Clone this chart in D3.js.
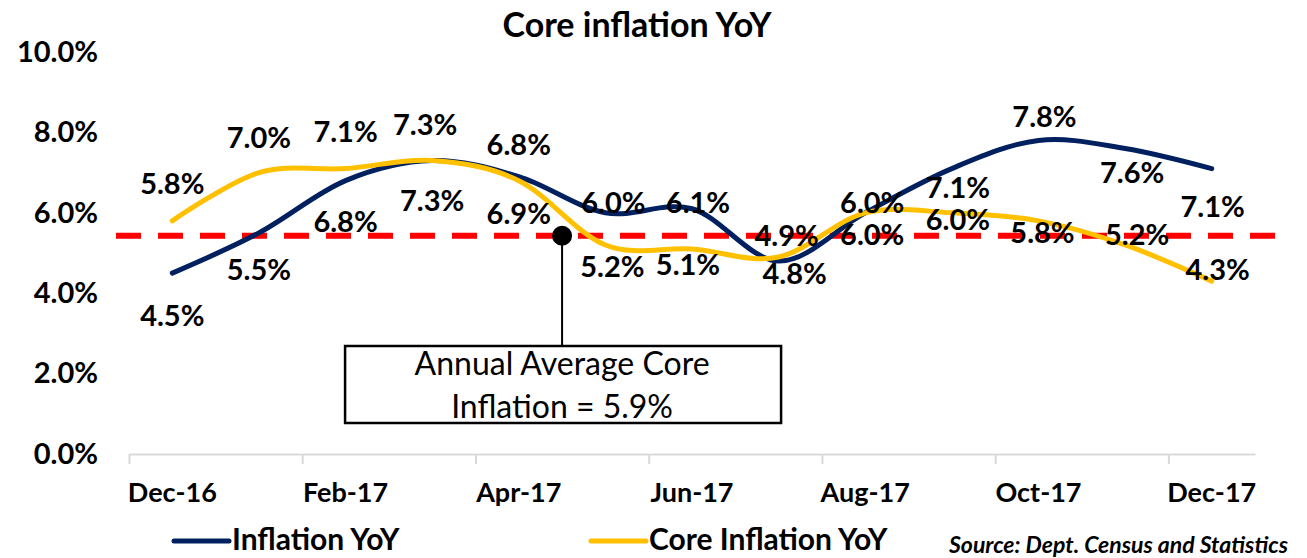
<!DOCTYPE html>
<html>
<head>
<meta charset="utf-8">
<script src="https://cdn.jsdelivr.net/npm/d3@7"></script>
<style>
  html, body { margin: 0; padding: 0; background: #fff; }
  svg text { font-family: Lato, "Open Sans", sans-serif; fill: #000; }
  .axis text { font-weight: 700; }
  .data-label { font-weight: 700; font-size: 29px; }
</style>
</head>
<body>
<svg id="chart" width="1307" height="558"></svg>
<script>
// Data
const months = ['Dec-16', 'Jan-17', 'Feb-17', 'Mar-17', 'Apr-17', 'May-17', 'Jun-17',
  'Jul-17', 'Aug-17', 'Sep-17', 'Oct-17', 'Nov-17', 'Dec-17'];
const shownMonths = ['Dec-16', 'Feb-17', 'Apr-17', 'Jun-17', 'Aug-17', 'Oct-17', 'Dec-17'];
const inflationYoY = [4.5, 5.5, 6.8, 7.3, 6.9, 6.0, 6.1, 4.8, 6.0, 7.1, 7.8, 7.6, 7.1];
const coreInflationYoY = [5.8, 7.0, 7.1, 7.3, 6.8, 5.2, 5.1, 4.9, 6.0, 6.0, 5.8, 5.2, 4.3];
const yTicks = [0, 2, 4, 6, 8, 10];
const averageLineValue = 5.43;   // where the dashed line sits on the axis
const annotationText = ['Annual Average Core', 'Inflation = 5.9%'];

// Label placement (pixel offsets from each point), kept apart from the data
const inflationLabelDx = [0, 0, 0, 0, 0, 8, 6, 16, 7, 6, 6, 7, 1];
const inflationLabelDy = [42, 37, 41, 40, 37, -10, -6, 13, -10, 19, -24, 24, 38];
const coreLabelDx = [0, 0, 0, -7, 0, 7, -4, 8, 7, 6, 4, 12, 6];
const coreLabelDy = [-37, -35, -37, -36, -36, 22, 16, -21, 22, 7, 12, -10, -12];

const NAVY = '#002060';
const GOLD = '#FFC000';

const svg = d3.select('#chart');

const x = d3.scaleBand().domain(months).range([129, 1255]).padding(0);
const xEdge = d3.scaleLinear().domain([0, months.length]).range([129, 1255]);
const y = d3.scaleLinear().domain([0, 10]).range([454, 52]);
const cx = m => x(m) + x.bandwidth() / 2;

// Title
svg.append('text')
  .attr('x', 637).attr('y', 37)
  .attr('text-anchor', 'middle')
  .style('font-size', '34px').style('font-weight', 700)
  .text('Core inflation YoY');

// Y axis (labels only)
const yAxis = svg.append('g')
  .attr('class', 'axis')
  .attr('transform', 'translate(98,0)')
  .call(d3.axisLeft(y).tickValues(yTicks).tickSize(0).tickPadding(0)
    .tickFormat(d => d3.format('.1f')(d) + '%'));
yAxis.select('.domain').remove();
yAxis.selectAll('text').style('font-size', '29px');

// X axis: line with ticks at every second band boundary
const xLine = svg.append('g')
  .attr('transform', `translate(0,${y(0)})`)
  .call(d3.axisBottom(xEdge).tickValues(d3.range(0, months.length, 2))
    .tickSize(10).tickSizeOuter(0).tickFormat(''));
xLine.select('.domain').attr('stroke', '#d9d9d9').attr('stroke-width', 2);
xLine.selectAll('.tick line').attr('stroke', '#d9d9d9').attr('stroke-width', 2);

const xLabels = svg.append('g')
  .attr('class', 'axis')
  .attr('transform', `translate(0,${y(0)})`)
  .call(d3.axisBottom(x).tickValues(shownMonths).tickSize(0).tickPadding(29));
xLabels.select('.domain').remove();
xLabels.selectAll('text').style('font-size', '27px');

// Average dashed line
svg.append('line')
  .attr('x1', 116).attr('x2', 1290)
  .attr('y1', y(averageLineValue)).attr('y2', y(averageLineValue))
  .attr('stroke', '#FF0000').attr('stroke-width', 6)
  .attr('stroke-dasharray', '25,17');

// Lines
const line = d3.line()
  .x((d, i) => cx(months[i]))
  .y(d => y(d))
  .curve(d3.curveCardinal.tension(0));

svg.append('path')
  .datum(inflationYoY)
  .attr('d', line)
  .attr('fill', 'none')
  .attr('stroke', NAVY).attr('stroke-width', 5)
  .attr('stroke-linecap', 'round');

svg.append('path')
  .datum(coreInflationYoY)
  .attr('d', line)
  .attr('fill', 'none')
  .attr('stroke', GOLD).attr('stroke-width', 5)
  .attr('stroke-linecap', 'round');

// Data labels
function addLabels(values, dxs, dys) {
  svg.append('g').selectAll('text')
    .data(values)
    .join('text')
    .attr('class', 'data-label')
    .attr('x', (d, i) => cx(months[i]) + dxs[i])
    .attr('y', (d, i) => y(d) + dys[i])
    .attr('dy', '0.36em')
    .attr('text-anchor', 'middle')
    .text(d => d3.format('.1f')(d) + '%');
}
addLabels(inflationYoY, inflationLabelDx, inflationLabelDy);
addLabels(coreInflationYoY, coreLabelDx, coreLabelDy);

// Annotation: dot on the average line, connector and callout box
const dotX = (cx('Apr-17') + cx('May-17')) / 2;
const dotY = y(averageLineValue);
const boxTop = 346, boxH = 77, boxW = 436;

svg.append('line')
  .attr('x1', dotX).attr('x2', dotX)
  .attr('y1', dotY).attr('y2', boxTop)
  .attr('stroke', '#000').attr('stroke-width', 2);

svg.append('circle')
  .attr('cx', dotX).attr('cy', dotY).attr('r', 10)
  .attr('fill', '#000');

svg.append('rect')
  .attr('x', dotX - boxW / 2 + 1).attr('y', boxTop)
  .attr('width', boxW).attr('height', boxH)
  .attr('fill', '#fff').attr('stroke', '#000').attr('stroke-width', 2.5);

svg.append('g').selectAll('text')
  .data(annotationText)
  .join('text')
  .attr('x', dotX)
  .attr('y', (d, i) => 375 + i * 43)
  .attr('text-anchor', 'middle')
  .style('font-size', '32px')
  .text(d => d);

// Legend
const legendItems = [
  { name: 'Inflation YoY', color: NAVY, x: 174 },
  { name: 'Core Inflation YoY', color: GOLD, x: 591 }
];
const legend = svg.append('g').selectAll('g')
  .data(legendItems)
  .join('g')
  .attr('transform', d => `translate(${d.x},541)`);
legend.append('line')
  .attr('x1', 0).attr('x2', 55)
  .attr('stroke', d => d.color).attr('stroke-width', 5)
  .attr('stroke-linecap', 'round');
legend.append('text')
  .attr('x', 58).attr('y', 9)
  .style('font-size', '30px').style('font-weight', 700)
  .text(d => d.name);

// Source note
svg.append('text')
  .attr('x', 1288).attr('y', 553)
  .attr('text-anchor', 'end')
  .style('font-size', '23px').style('font-weight', 700).style('font-style', 'italic')
  .text('Source: Dept. Census and Statistics');
</script>
</body>
</html>
